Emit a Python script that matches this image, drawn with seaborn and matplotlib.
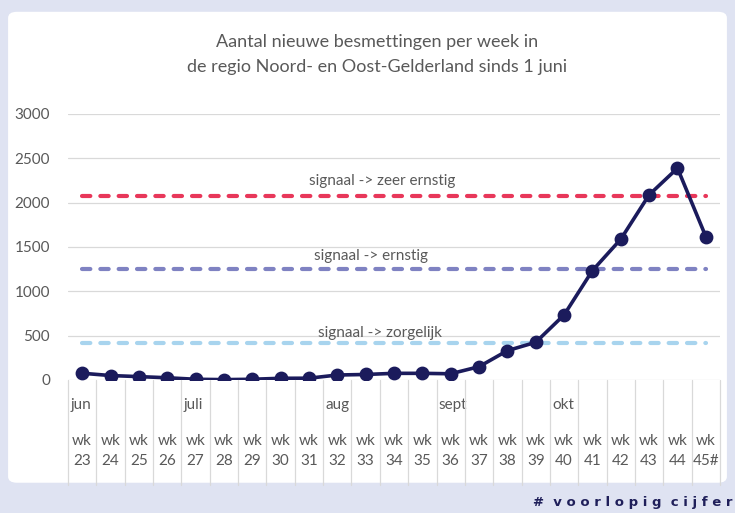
import matplotlib
matplotlib.use("Agg")
import matplotlib.pyplot as plt
import matplotlib.transforms as mtransforms
from matplotlib.patches import FancyBboxPatch
import seaborn as sns
import pandas as pd

# weekly counts
weeks = ["23", "24", "25", "26", "27", "28", "29", "30", "31", "32", "33", "34",
         "35", "36", "37", "38", "39", "40", "41", "42", "43", "44", "45#"]
cases = [76, 50, 38, 25, 8, 4, 8, 19, 20, 56, 62, 75,
         75, 70, 150, 331, 425, 734, 1234, 1588, 2088, 2389, 1617]

months = ["jun", "juli", "aug", "sept", "okt"]
month_start = [0, 4, 9, 13, 17]

thresholds = [2070, 1250, 420]
threshold_labels = ["signaal -> zeer ernstig", "signaal -> ernstig", "signaal -> zorgelijk"]
threshold_colors = ["#E8375A", "#7F82C2", "#A8D4EE"]

sns.set_theme(style="white")
plt.rcParams["font.family"] = ["Lato", "DejaVu Sans"]

grey = "#595959"
fig = plt.figure(figsize=(7.35, 5.13), dpi=100, facecolor="#DFE3F2")
fig.patches.append(FancyBboxPatch((0.011, 0.059), 0.978, 0.918,
                                  boxstyle="round,pad=0,rounding_size=0.012",
                                  transform=fig.transFigure, facecolor="white",
                                  edgecolor="none", zorder=-10))
ax = fig.add_axes([0.0925, 0.2593, 0.8871, 0.5185])
ax.set_facecolor("none")

# threshold lines
for val, lab, col in zip(thresholds, threshold_labels, threshold_colors):
    ax.plot([0, len(weeks) - 1], [val, val], color=col, lw=3.0,
            ls=(0, (2.0, 2.4)), dash_capstyle="round", zorder=3)

ax.text(10.6, 2240, threshold_labels[0], ha="center", va="center", fontsize=11, color=grey)
ax.text(10.2, 1400, threshold_labels[1], ha="center", va="center", fontsize=11, color=grey)
ax.text(10.5, 535, threshold_labels[2], ha="center", va="center", fontsize=11, color=grey)

df = pd.DataFrame({"week": ["wk\n" + w for w in weeks], "cases": cases})
sns.pointplot(data=df, x="week", y="cases", color="#1B1B5C", errorbar=None,
              markersize=8, linewidth=2.6, ax=ax, zorder=5)

ax.set_xlim(-0.5, len(weeks) - 0.5)
ax.set_ylim(0, 3000)
ax.set_yticks(range(0, 3001, 500))
ax.yaxis.grid(True, color="#D9D9D9", lw=0.9)
ax.xaxis.grid(False)
ax.set_axisbelow(True)
for s in ax.spines.values():
    s.set_visible(False)
ax.set_xlabel("")
ax.set_ylabel("")
ax.tick_params(axis="x", length=0, pad=39, labelsize=11, labelcolor=grey)
ax.tick_params(axis="y", length=0, pad=13, labelsize=11, labelcolor=grey)
for lbl in ax.get_xticklabels():
    lbl.set_linespacing(1.5)

# category table lines (figure y coords) and month labels
trans = mtransforms.blended_transform_factory(ax.transData, ax.transAxes)
ftrans = mtransforms.blended_transform_factory(ax.transData, fig.transFigure)
for i in range(len(weeks) + 1):
    fig.add_artist(plt.Line2D([i - 0.5, i - 0.5], [0.2593, 0.055], transform=ftrans,
                              color="#D9D9D9", lw=0.9))
for m, p in zip(months, month_start):
    ax.text(p - 0.42, -0.094, m, transform=trans, ha="left", va="center",
            fontsize=11, color=grey)

fig.text(0.513, 0.918, "Aantal nieuwe besmettingen per week in", ha="center",
         va="center", fontsize=13, color=grey)
fig.text(0.513, 0.869, "de regio Noord- en Oost-Gelderland sinds 1 juni", ha="center",
         va="center", fontsize=13, color=grey)

fig.text(0.997, 0.0195, "#  v o o r l o p i g  c i j f e r", ha="right", va="center",
         fontsize=9.5, fontweight="bold", color="#1F1F5A", family="DejaVu Sans")

fig.savefig("out.png", dpi=100, facecolor=fig.get_facecolor())
